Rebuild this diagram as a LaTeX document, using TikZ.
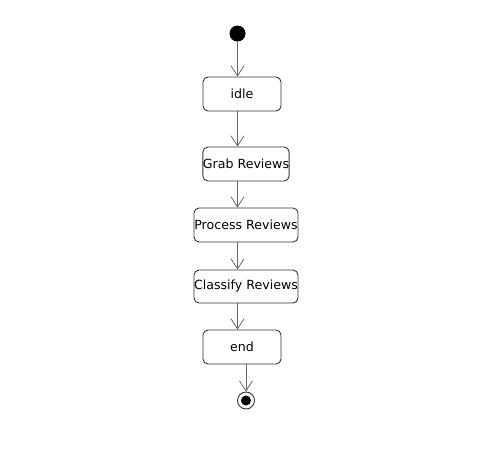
\documentclass[tikz,border=0pt]{standalone}
\usepackage{fontspec}
\setmainfont{DejaVu Sans}
\usetikzlibrary{arrows.meta}
\begin{document}
\begin{tikzpicture}[x=1pt,y=-1pt,
    state/.style={draw=black!80,line width=0.9pt,rounded corners=5pt,
      minimum height=34pt,inner sep=0pt,
      font=\fontsize{12.6}{14}\selectfont},
    flow/.style={draw=black!60,line width=0.8pt,
      -{Straight Barb[length=10pt,width=13pt,line width=0.8pt]}}]
      \useasboundingbox (0,0) rectangle (500,464);
      \draw
        (237.5,33.5) node[circle,fill=black,minimum size=16pt,inner sep=0pt] (start){}
        (242,94) node[state,minimum width=78pt] (idle){idle}
        (246,164) node[state,minimum width=86pt] (grab){Grab Reviews}
        (246,225) node[state,minimum width=104pt] (process){Process Reviews}
        (246,286.5) node[state,minimum width=104pt,minimum height=33pt] (classify){Classify Reviews}
        (242,347) node[state,minimum width=78pt] (end){end}
        (246,400.5) node[circle,draw=black!80,line width=0.9pt,minimum size=17pt,inner sep=0pt] (final){};
      \fill (final) circle (5pt);
      \begin{scope}[flow]
        \draw (start) to (start |- idle.north);
        \draw (start |- idle.south) to (start |- grab.north);
        \draw (start |- grab.south) to (start |- process.north);
        \draw (start |- process.south) to (start |- classify.north);
        \draw (start |- classify.south) to (start |- end.north);
        \draw (final |- end.south) to (final.north);
      \end{scope}
    \end{tikzpicture}
\end{document}
